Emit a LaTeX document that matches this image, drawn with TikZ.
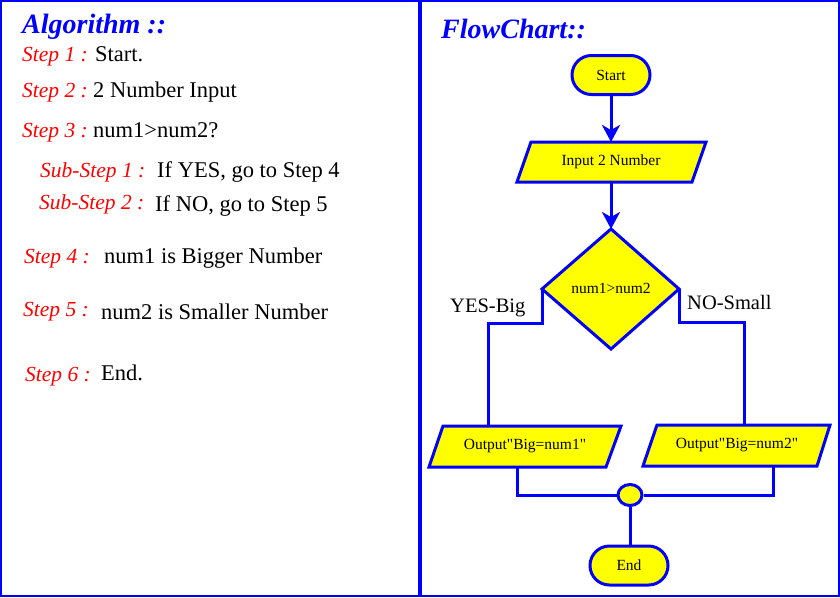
\documentclass[tikz,border=0pt]{standalone}
\usepackage{fontspec}
\setmainfont{Liberation Serif}
\usetikzlibrary{shapes.misc,shapes.geometric,arrows.meta}
\definecolor{fcblue}{RGB}{0,0,255}
\definecolor{fcyellow}{RGB}{255,255,0}
\definecolor{fcred}{RGB}{255,0,0}
\tikzset{
  frame/.style={draw=fcblue,line width=2.5pt},
  title/.style={anchor=base west,inner sep=0,text=fcblue,font=\fontsize{28}{31}\selectfont\bfseries\itshape},
  steplab/.style={anchor=base west,inner sep=0,text=fcred,font=\fontsize{21.5}{24}\selectfont\itshape},
  steptxt/.style={anchor=base west,inner sep=0,text=black,font=\fontsize{22.5}{25}\selectfont},
  shapeline/.style={draw=fcblue,line width=3pt,fill=fcyellow,line join=miter},
  term/.style={rounded rectangle,draw=fcblue,line width=3pt,fill=fcyellow,minimum width=78pt,minimum height=39pt,inner sep=0,font=\fontsize{15.5}{18}\selectfont},
  fctxt/.style={inner sep=0,font=\fontsize{15.5}{18}\selectfont},
  conn/.style={draw=fcblue,line width=3pt},
  arr/.style={conn,-{Stealth[length=17pt,width=18pt,inset=5pt]}},
  branch/.style={anchor=base west,inner sep=0,font=\fontsize{20.5}{24}\selectfont}
}
\begin{document}
\begin{tikzpicture}[x=1pt,y=-1pt]
\useasboundingbox (0,0) rectangle (840,597);
% frames
\draw[frame] (1.2,1.2) rectangle (838.8,595.8);
\draw[draw=fcblue,line width=4.5pt] (420,0) -- (420,597);

% left panel
\node[title] (alg) at (22,33) {Algorithm ::};
\node[steplab] (s1l) at (22,61) {Step 1 :};
\node[steptxt] (s1t) at (95,61) {Start.};
\node[steplab] (s2l) at (22,97) {Step 2 :};
\node[steptxt] (s2t) at (93,97) {2 Number Input};
\node[steplab] (s3l) at (22,137) {Step 3 :};
\node[steptxt] (s3t) at (93,137) {num1>num2?};
\node[steplab] (ss1l) at (40,177) {Sub-Step 1 :};
\node[steptxt] (ss1t) at (157,177) {If YES, go to Step 4};
\node[steplab] (ss2l) at (39,209) {Sub-Step 2 :};
\node[steptxt] (ss2t) at (155,211) {If NO, go to Step 5};
\node[steplab] (s4l) at (24,263) {Step 4 :};
\node[steptxt] (s4t) at (104,263) {num1 is Bigger Number};
\node[steplab] (s5l) at (23,316) {Step 5 :};
\node[steptxt] (s5t) at (101,319) {num2 is Smaller Number};
\node[steplab] (s6l) at (25,381) {Step 6 :};
\node[steptxt] (s6t) at (101,380) {End.};

% right panel
\node[title] (fc) at (441,38) {FlowChart::};

\node[term] (start) at (611,75) {Start};

% input parallelogram
\draw[shapeline] (531,142) -- (706,142) -- (692,182) -- (517,182) -- cycle;
\coordinate (inTop) at (611,142);
\coordinate (inBot) at (611,182);
\node[fctxt] (input) at (611,162) {Input 2 Number};

% decision diamond
\draw[shapeline] (611,229) -- (679,289) -- (611,349) -- (542,289) -- cycle;
\coordinate (dTop) at (611,229);
\coordinate (dLeft) at (542,289);
\coordinate (dRight) at (679,289);
\node[fctxt] (dec) at (611,288) {num1>num2};

% output parallelograms
\draw[shapeline] (443,426) -- (621,426) -- (606,467) -- (429,467) -- cycle;
\coordinate (o1Top) at (488,426);
\coordinate (o1Bot) at (517,467);
\node[fctxt] (out1) at (525,446) {Output\textquotedbl Big=num1\textquotedbl};

\draw[shapeline] (657,425) -- (830,425) -- (817,466) -- (643,466) -- cycle;
\coordinate (o2Top) at (744,425);
\coordinate (o2Bot) at (773,466);
\node[fctxt] (out2) at (737,445) {Output\textquotedbl Big=num2\textquotedbl};

% connector circle
\node[ellipse,draw=fcblue,line width=3pt,fill=fcyellow,minimum width=24pt,minimum height=21pt,inner sep=0] (join) at (630,495) {};

\node[term] (end) at (629,565.5) {End};

% connectors
\draw[arr] (start.south) -- (inTop);
\draw[arr] (inBot) -- (dTop);
\draw[conn] (dLeft) -- (542,323) -- (488,323) -- (o1Top);
\draw[conn] (dRight) -- (679,322) -- (744,322) -- (o2Top);
\draw[conn] (o1Bot) |- (join.west);
\draw[conn] (o2Bot) |- (join.east);
\draw[conn] (join.south) -- (join.south |- end.north);

\node[branch] (yes) at (450,312) {YES-Big};
\node[branch] (no) at (687,309) {NO-Small};
\end{tikzpicture}
\end{document}
